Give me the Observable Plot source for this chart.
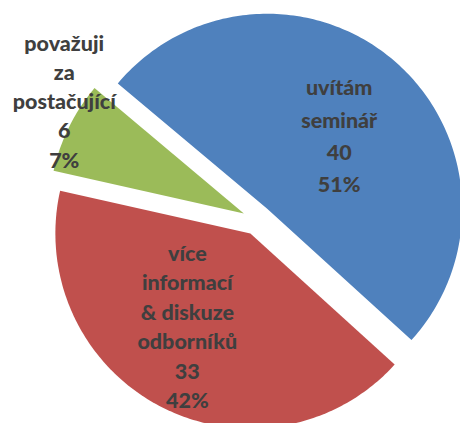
<!DOCTYPE html>
<html>
<head>
<meta charset="utf-8">
<script src="https://cdn.jsdelivr.net/npm/d3@7"></script>
<script src="https://cdn.jsdelivr.net/npm/@observablehq/plot@0.6"></script>
<style>
  html, body { margin: 0; padding: 0; background: #ffffff; }
  #chart { width: 460px; height: 423px; }
</style>
</head>
<body>
<div id="chart"></div>
<script>
// ---- data ----
const categories = ["uvítám seminář", "více informací & diskuze odborníků", "považuji za postačující"];
const labelLines = [["uvítám", "seminář"], ["více", "informací", "& diskuze", "odborníků"], ["považuji", "za", "postačující"]];
const values = [40, 33, 6];
const percentLabels = ["51%", "42%", "7%"];
const colors = ["#4F81BD", "#C0504D", "#9BBB59"];

// ---- layout ----
const deg = Math.PI / 180;
const startAngle = -50 * deg;
const explode = 0.077;
const labelRadius = [0.535, 0.57, 1.09];
const labelTurn = [2.5 * deg, 7.1 * deg, 6 * deg];
const labelLineHeight = [1.49, 1.37, 1.36];

const arcs = d3.pie().sort(null).value(d => d)
  .startAngle(startAngle).endAngle(startAngle + 2 * Math.PI)(values);

const slices = [];
const labels = [];
arcs.forEach((a, i) => {
  const mid = (a.startAngle + a.endAngle) / 2;
  const cx = explode * Math.sin(mid), cy = explode * Math.cos(mid);
  slices.push({cat: categories[i], x: cx, y: cy});
  const n = Math.max(8, Math.ceil((a.endAngle - a.startAngle) / deg));
  for (let k = 0; k <= n; k++) {
    const t = a.startAngle + (a.endAngle - a.startAngle) * k / n;
    slices.push({cat: categories[i], x: cx + Math.sin(t), y: cy + Math.cos(t)});
  }
  const la = mid + labelTurn[i];
  labels.push({
    cat: categories[i],
    x: cx + labelRadius[i] * Math.sin(la),
    y: cy + labelRadius[i] * Math.cos(la),
    text: [...labelLines[i], String(values[i]), percentLabels[i]].join("\n")
  });
});

const chart = Plot.plot({
  width: 460,
  height: 423,
  margin: 0,
  style: {background: "#ffffff", overflow: "hidden"},
  x: {domain: [-1.317, 1.042], axis: null},
  y: {domain: [-1.043, 1.126], axis: null},
  color: {domain: categories, range: colors},
  marks: [
    Plot.line(slices, {x: "x", y: "y", z: "cat", fill: "cat", stroke: "none", curve: "linear"}),
    ...labels.map((d, i) => Plot.text([d], {
      x: "x", y: "y", text: "text",
      fill: "#3f3f3f",
      fontFamily: "Lato, 'Open Sans', sans-serif",
      fontWeight: 900,
      fontSize: 21.5,
      lineHeight: labelLineHeight[i],
      textAnchor: "middle",
      lineAnchor: "middle"
    }))
  ]
});
document.getElementById("chart").appendChild(chart);
</script>
</body>
</html>
